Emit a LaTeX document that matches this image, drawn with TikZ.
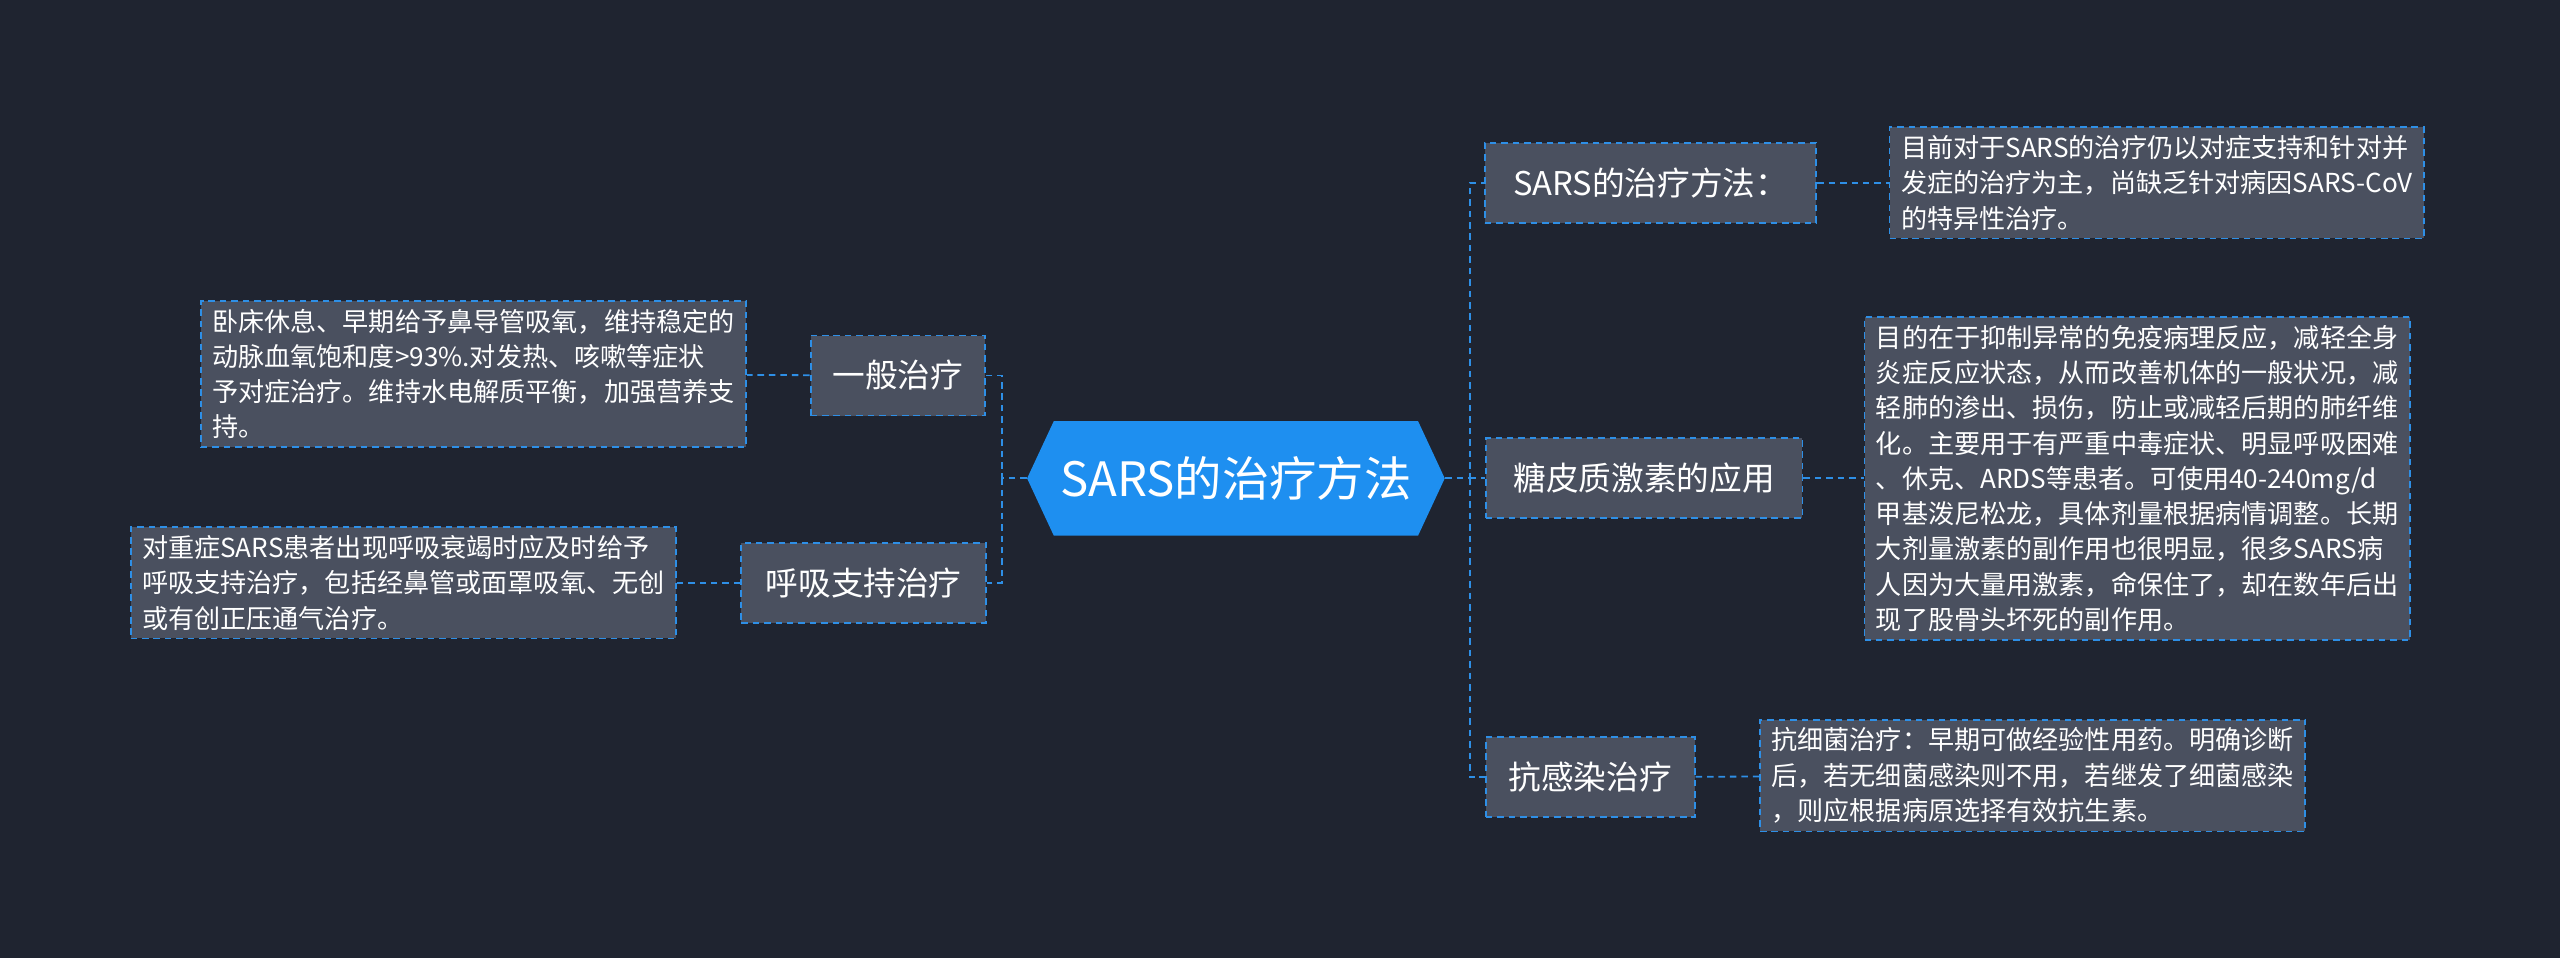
\documentclass[tikz,border=0pt]{standalone}
\usepackage{fontspec}
\setmainfont{Noto Sans CJK SC}
\usetikzlibrary{shapes.geometric,shapes.symbols}
\definecolor{bg}{HTML}{1F2430}
\definecolor{boxf}{HTML}{4A505F}
\definecolor{ln}{HTML}{2E8FE6}
\definecolor{cen}{HTML}{1E8FF0}
\begin{document}
\begin{tikzpicture}[x=1pt,y=-1pt,
 br/.style={draw=ln,dash pattern=on 4pt off 3pt,line width=1.1pt,fill=boxf,text=white,font=\fontsize{20}{24}\selectfont,minimum height=49pt,inner xsep=4pt,anchor=center},
 lf/.style={draw=ln,dash pattern=on 4pt off 3pt,line width=1.1pt,fill=boxf,text=white,font=\fontsize{16}{21.6}\selectfont,align=left,inner xsep=7pt,inner ysep=5pt,anchor=center},
 cn/.style={draw=ln,dash pattern=on 4pt off 3pt,line width=1.1pt}]
\fill[bg] (0,0) rectangle (1568,587);
\useasboundingbox (0,0) rectangle (1568,587);
\node[signal,signal to=east and west,signal pointer angle=130,fill=cen,text=white,font=\fontsize{29}{32}\selectfont,minimum width=245pt,minimum height=70pt,inner xsep=4pt] (c) at (757,293) {SARS的治疗方法};
\node[br,minimum width=107pt] (a) at (550,230) {一般治疗};
\node[br,minimum width=150pt] (b) at (529,357) {呼吸支持治疗};
\node[br,minimum width=203pt] (r1) at (1011,112) {SARS的治疗方法：};
\node[br,minimum width=194pt] (r2) at (1007,293) {糖皮质激素的应用};
\node[br,minimum width=128pt] (r3) at (974,476) {抗感染治疗};
\node[lf] (la) at (290,229) {卧床休息、早期给予鼻导管吸氧，维持稳定的\\动脉血氧饱和度>93\%.对发热、咳嗽等症状\\予对症治疗。维持水电解质平衡，加强营养支\\持。};
\node[lf] (lb) at (247,357) {对重症SARS患者出现呼吸衰竭时应及时给予\\呼吸支持治疗，包括经鼻管或面罩吸氧、无创\\或有创正压通气治疗。};
\node[lf] (l1) at (1321,112) {目前对于SARS的治疗仍以对症支持和针对并\\发症的治疗为主，尚缺乏针对病因SARS-CoV\\的特异性治疗。};
\node[lf] (l2) at (1309,293) {目的在于抑制异常的免疫病理反应，减轻全身\\炎症反应状态，从而改善机体的一般状况，减\\轻肺的渗出、损伤，防止或减轻后期的肺纤维\\化。主要用于有严重中毒症状、明显呼吸困难\\、休克、ARDS等患者。可使用40-240mg/d\\甲基泼尼松龙，具体剂量根据病情调整。长期\\大剂量激素的副作用也很明显，很多SARS病\\人因为大量用激素，命保住了，却在数年后出\\现了股骨头坏死的副作用。};
\node[lf] (l3) at (1245,475) {抗细菌治疗：早期可做经验性用药。明确诊断\\后，若无细菌感染则不用，若继发了细菌感染\\，则应根据病原选择有效抗生素。};
\draw[cn] (c.east) -- ++(15,0) coordinate (t) |- (r1.west);
\draw[cn] (t) |- (r2.west);
\draw[cn] (t) |- (r3.west);
\draw[cn] (c.west) -- ++(-15,0) coordinate (u) |- (a.east);
\draw[cn] (u) |- (b.east);
\draw[cn] (a) -- (la);
\draw[cn] (b) -- (lb);
\draw[cn] (r1) -- (l1);
\draw[cn] (r2) -- (l2);
\draw[cn] (r3) -- (l3);
\end{tikzpicture}
\end{document}
